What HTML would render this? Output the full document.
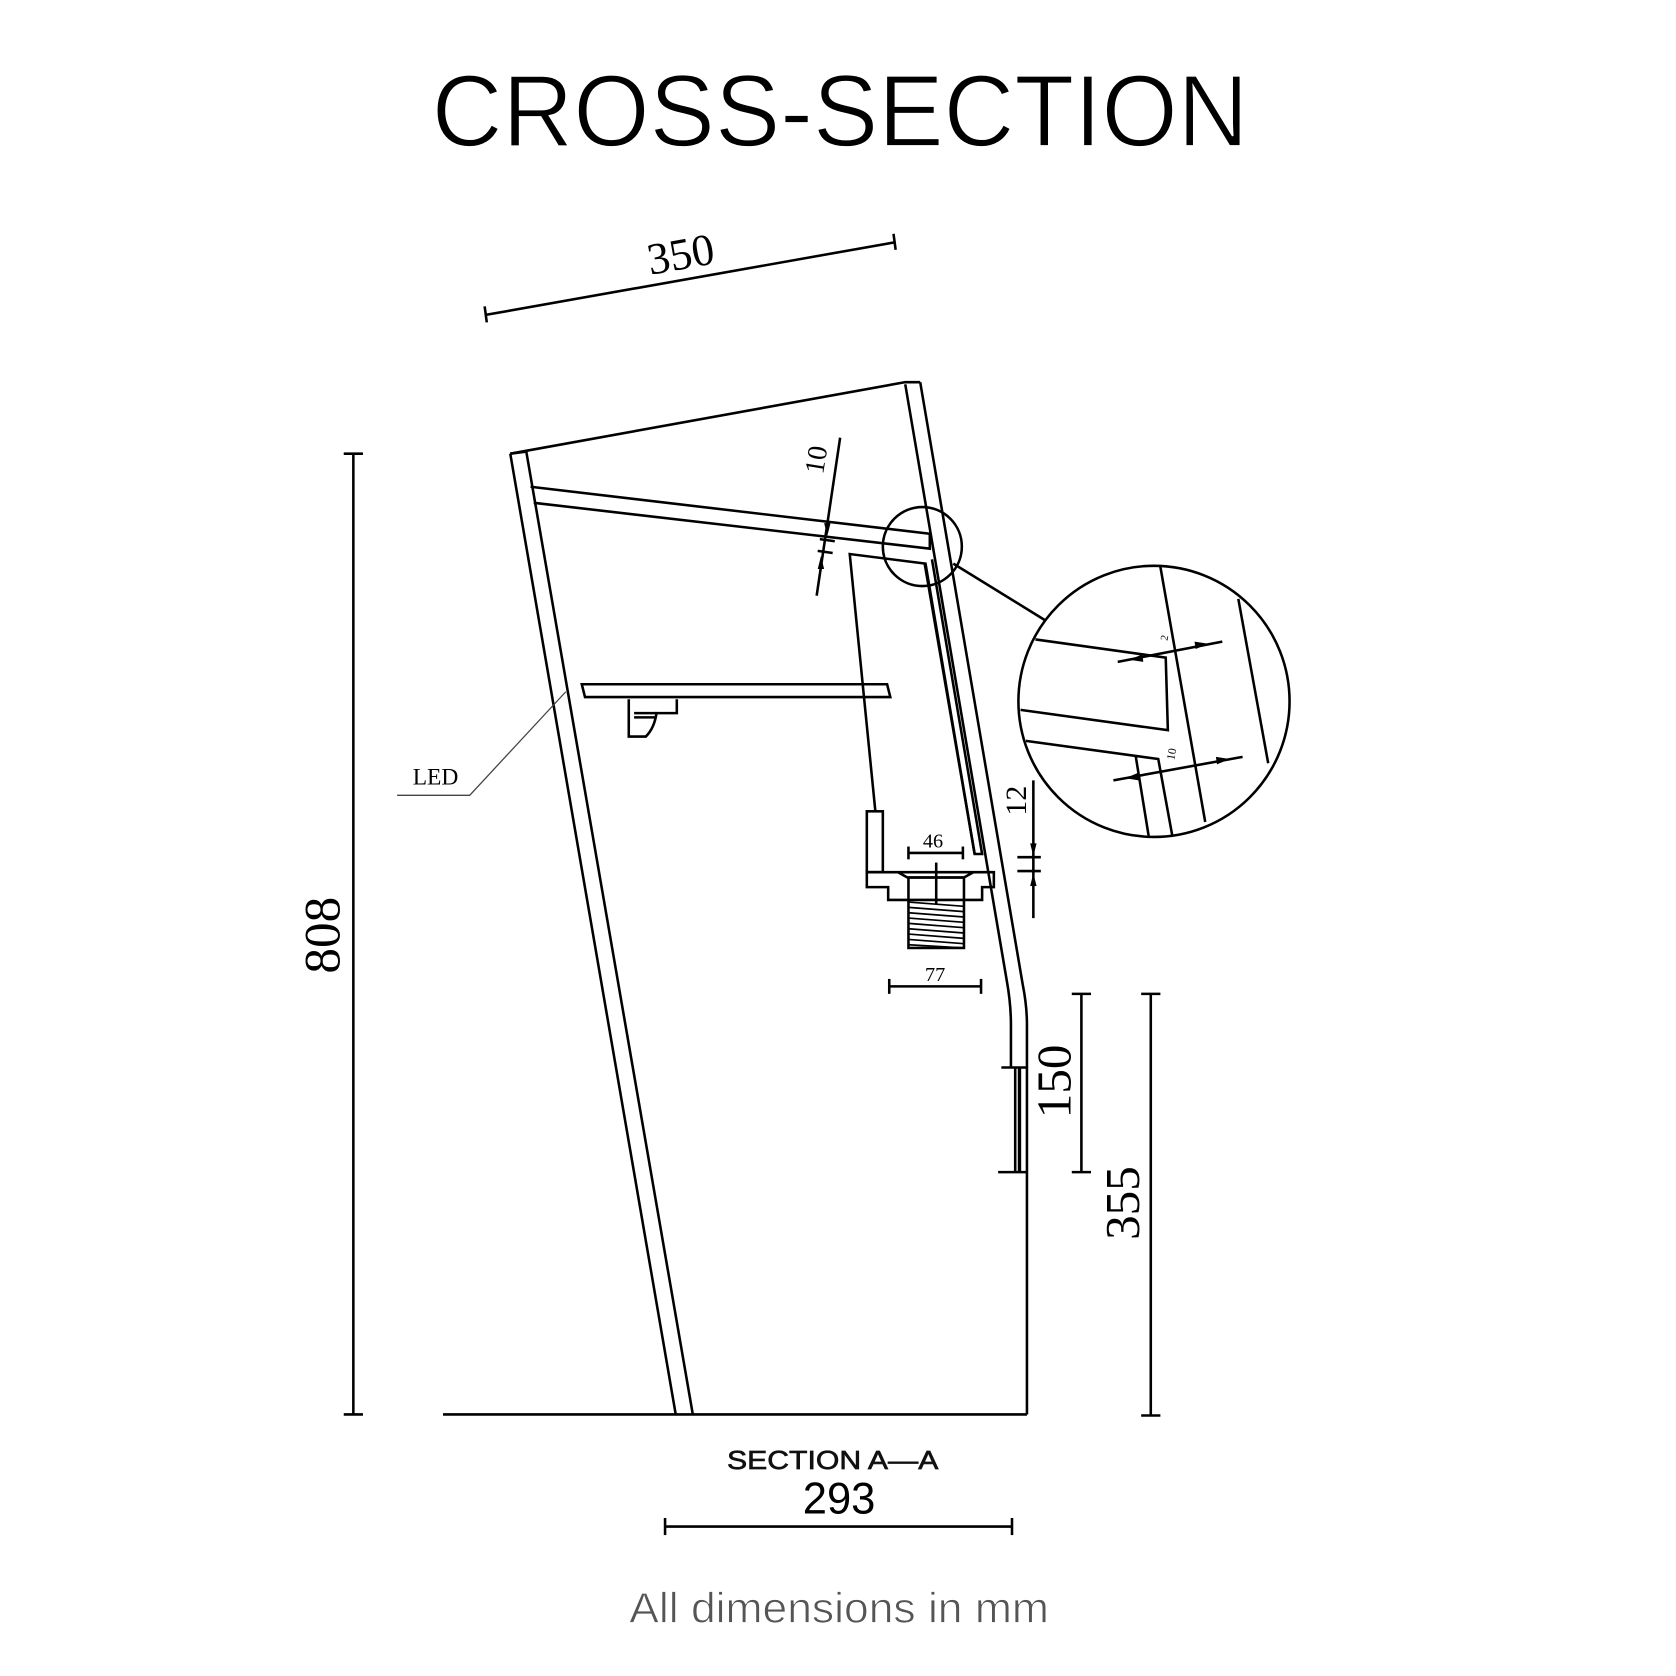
<!DOCTYPE html>
<html><head><meta charset="utf-8"><style>
html,body{margin:0;padding:0;background:#fff}
svg{display:block}
</style></head><body>
<svg width="1676" height="1676" viewBox="0 0 1570 1570" xmlns="http://www.w3.org/2000/svg">
<rect width="1570" height="1570" fill="#fff"/>
<text x="787" y="137" font-family="Liberation Sans, sans-serif" font-size="96" textLength="765" lengthAdjust="spacingAndGlyphs" text-anchor="middle" fill="#000" stroke="#fff" stroke-width="1.6">CROSS-SECTION</text>

<g fill="none" stroke="#000" stroke-width="2.4" stroke-linejoin="miter">
<!-- 350 dim -->
<line x1="455" y1="295" x2="838" y2="227"/>
<line x1="454" y1="287" x2="456" y2="302"/>
<line x1="837" y1="219" x2="839" y2="234"/>
<!-- 808 dim -->
<line x1="331" y1="425" x2="331" y2="1325"/>
<line x1="322" y1="425" x2="340" y2="425"/>
<line x1="322" y1="1325" x2="340" y2="1325"/>
<!-- cabinet outline -->
<path d="M478,425 L848,358 L862,358"/>
<path d="M478,425 L633,1325"/>
<path d="M493,423 L649,1325"/>
<line x1="478" y1="425" x2="493" y2="423"/>
<path d="M862,358 L958,922 Q962,942 962,960 L962,1325"/>
<path d="M848,360 L943,918 Q947,940 947,960 L947,1000"/>
<line x1="415" y1="1325" x2="962" y2="1325"/>
<!-- top shelf panel -->
<path d="M497,456 L871,500 L871,514 L500,471"/>
<!-- inner panel -->
<path d="M820,760 L796,519 L867,528 L913,800 L920,800 L873,524"/>
<path d="M866,527 L913,800"/>
<!-- small rect -->
<rect x="812" y="760" width="15" height="57"/>
<!-- drain plate -->
<path d="M812,817 L931,817 L931,831 L920,831 L920,843 L832,843 L832,831 L812,831 Z"/>
<path d="M841,817 L850,822 L903,822 L912,817"/>
<rect x="851" y="822" width="52" height="66"/>
<line x1="877" y1="808" x2="877" y2="847"/>
<!-- 46 dim -->
<line x1="851" y1="799" x2="902" y2="799"/>
<line x1="851" y1="793" x2="851" y2="805"/>
<line x1="902" y1="793" x2="902" y2="805"/>
<!-- 77 dim -->
<line x1="833" y1="924" x2="919" y2="924"/>
<line x1="833" y1="917" x2="833" y2="931"/>
<line x1="919" y1="917" x2="919" y2="931"/>
<!-- 12 dim -->
<line x1="968" y1="731" x2="968" y2="860"/>
<line x1="953" y1="803" x2="975" y2="803"/>
<line x1="953" y1="816" x2="975" y2="816"/>
<!-- 10 dim -->
<line x1="787" y1="410" x2="765" y2="558"/>
<line x1="768" y1="505" x2="782" y2="507"/>
<line x1="766" y1="516" x2="780" y2="518"/>
<!-- LED shelf -->
<path d="M545,641 L831,641 L834,653 L548,653 Z"/>
<path d="M589,655 L589,690 L605,690 Q613,682 615,668 L634,668 L634,655"/>
<path d="M594,668 L615,668 M594,672 L615,672"/>
<!-- 150 / 355 dims -->
<line x1="1013" y1="931" x2="1013" y2="1098"/>
<line x1="1004" y1="931" x2="1022" y2="931"/>
<line x1="1004" y1="1098" x2="1022" y2="1098"/>
<line x1="1078" y1="931" x2="1078" y2="1326"/>
<line x1="1069" y1="931" x2="1087" y2="931"/>
<line x1="1069" y1="1326" x2="1087" y2="1326"/>
<path d="M951,1000 L962,1000 M951,1000 L951,1098 M938,1000 L951,1000 M935,1098 L962,1098"/>
<!-- 293 dim -->
<line x1="623" y1="1430" x2="948" y2="1430"/>
<line x1="623" y1="1422" x2="623" y2="1438"/>
<line x1="948" y1="1422" x2="948" y2="1438"/>
<!-- magnifier -->
<circle cx="864" cy="512" r="37"/>
<line x1="893" y1="528" x2="979" y2="581"/>
<circle cx="1081" cy="657" r="127"/>
<line x1="1087" y1="531" x2="1129" y2="770"/>
<line x1="1160" y1="561" x2="1188" y2="715"/>
<path d="M970,599 L1092,616 L1094,684 L956,665"/>
<path d="M961,694 L1085,711 L1098,782"/>
<line x1="1064" y1="709" x2="1076" y2="783"/>
<line x1="1047" y1="620" x2="1145" y2="601"/>
<line x1="1043" y1="731" x2="1164" y2="709"/>
</g>
<g stroke="#000" stroke-width="3.2" fill="none">
<line x1="955" y1="1000" x2="955" y2="1098"/>
</g>
<!-- thread hatching -->
<g stroke="#000" stroke-width="1.6">
<line x1="851" y1="845" x2="903" y2="849"/><line x1="851" y1="850" x2="903" y2="854"/>
<line x1="851" y1="855" x2="903" y2="859"/><line x1="851" y1="860" x2="903" y2="864"/>
<line x1="851" y1="865" x2="903" y2="869"/><line x1="851" y1="870" x2="903" y2="874"/>
<line x1="851" y1="875" x2="903" y2="879"/><line x1="851" y1="880" x2="903" y2="884"/>
<line x1="851" y1="885" x2="903" y2="888"/>
</g>
<!-- arrows -->
<g fill="#000">
<polygon points="772,490 778,490 775,502"/>
<polygon points="766,533 772,533 769,521"/>
<polygon points="965,790 971,790 968,802"/>
<polygon points="965,830 971,830 968,818"/>
<polygon points="1058,618 1070,613 1071,620"/>
<polygon points="1132,603 1120,608 1119,601"/>
<polygon points="1054,729 1066,724 1067,731"/>
<polygon points="1152,711 1140,716 1139,709"/>
</g>
<!-- LED leader -->
<polyline points="530,648 440,745 372,745" fill="none" stroke="#444" stroke-width="1.2"/>

<g font-family="Liberation Serif, serif" fill="#000">
<text x="640" y="252" font-size="42" text-anchor="middle" transform="rotate(-10 640 252)">350</text>
<text x="0" y="0" font-size="48" text-anchor="middle" transform="translate(318 876) rotate(-90)">808</text>
<text x="0" y="0" font-size="26" text-anchor="middle" transform="translate(773 432) rotate(-81)">10</text>
<text x="408" y="735" font-size="22" text-anchor="middle">LED</text>
<text x="874" y="794" font-size="19" text-anchor="middle">46</text>
<text x="876" y="919" font-size="19" text-anchor="middle">77</text>
<text x="0" y="0" font-size="28" text-anchor="middle" transform="translate(961 750) rotate(-90)">12</text>
<text x="0" y="0" font-size="46" text-anchor="middle" transform="translate(1003 1013) rotate(-90)">150</text>
<text x="0" y="0" font-size="46" text-anchor="middle" transform="translate(1067 1127) rotate(-90)">355</text>
<text x="1094" y="598" font-size="10" text-anchor="middle" transform="rotate(-80 1094 598)">2</text>
<text x="1101" y="707" font-size="11" text-anchor="middle" transform="rotate(-80 1101 707)">10</text>
</g>
<text x="780" y="1376" font-family="Liberation Sans, sans-serif" font-size="24" text-anchor="middle" textLength="198" lengthAdjust="spacingAndGlyphs" fill="#111" stroke="#111" stroke-width="0.6">SECTION  A—A</text>
<text x="786" y="1418" font-family="Liberation Sans, sans-serif" font-size="42" text-anchor="middle" textLength="68" lengthAdjust="spacingAndGlyphs" fill="#000">293</text>
<text x="786" y="1520" font-family="Liberation Sans, sans-serif" font-size="40" text-anchor="middle" textLength="393" lengthAdjust="spacingAndGlyphs" fill="#555" stroke="#fff" stroke-width="0.8">All dimensions in mm</text>
</svg>
</body></html>
